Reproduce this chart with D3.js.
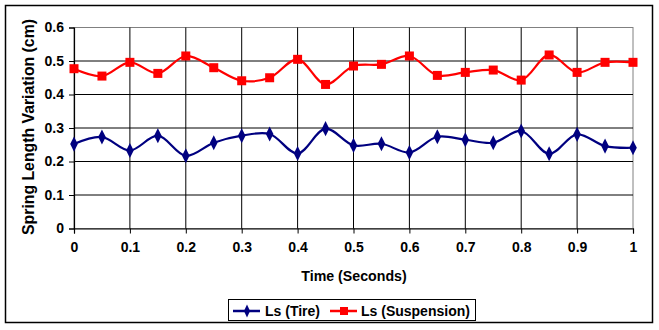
<!DOCTYPE html>
<html><head><meta charset="utf-8">
<script src="https://cdn.jsdelivr.net/npm/d3@7"></script>
<style>body{margin:0;background:#fff}svg{display:block}text{font-family:"Liberation Sans",Arial,sans-serif;font-weight:bold}</style>
</head><body><svg id="c" width="659" height="330"></svg>
<script>
const times = [0,0.05,0.1,0.15,0.2,0.25,0.3,0.35,0.4,0.45,0.5,0.55,0.6,0.65,0.7,0.75,0.8,0.85,0.9,0.95,1];
const tire = [0.252,0.273,0.233,0.277,0.217,0.256,0.277,0.282,0.224,0.298,0.248,0.253,0.227,0.274,0.265,0.256,0.291,0.223,0.281,0.246,0.241];
const suspension = [0.477,0.455,0.496,0.463,0.515,0.480,0.441,0.450,0.505,0.430,0.485,0.490,0.515,0.457,0.466,0.473,0.443,0.518,0.466,0.496,0.496];
const xTicks = [0,0.1,0.2,0.3,0.4,0.5,0.6,0.7,0.8,0.9,1];
const yTicks = [0,0.1,0.2,0.3,0.4,0.5,0.6];
const seriesNames = ["Ls (Tire)","Ls (Suspension)"];

const svg = d3.select("#c");
const L=74,R=633,T=27.5,B=228.5;
const x = d3.scaleLinear().domain([0,1]).range([L,R]);
const y = d3.scaleLinear().domain([0,0.6]).range([B,T]);

svg.append("rect").attr("x",5.5).attr("y",5.5).attr("width",647).attr("height",317)
  .attr("fill","none").attr("stroke","#000").attr("stroke-width",1.5);

// plot area border (gray)
svg.append("rect").attr("x",L).attr("y",T).attr("width",R-L).attr("height",B-T)
  .attr("fill","none").attr("stroke","#808080").attr("stroke-width",1);

// grid
const g = svg.append("g");
g.selectAll(".hg").data(yTicks.filter(d=>d>0&&d<0.6)).join("line")
  .attr("x1",L).attr("x2",R).attr("y1",d=>y(d)).attr("y2",d=>y(d)).attr("stroke","#000").attr("stroke-width",1);
g.selectAll(".vg").data(xTicks.filter(d=>d>0&&d<1)).join("line")
  .attr("y1",T).attr("y2",B).attr("x1",d=>x(d)).attr("x2",d=>x(d)).attr("stroke","#000").attr("stroke-width",1);

// axes
const xa = svg.append("g").attr("transform",`translate(0,${B})`)
  .call(d3.axisBottom(x).tickValues(xTicks).tickSize(5).tickPadding(9).tickFormat(d=>d3.format("")(d)));
const ya = svg.append("g").attr("transform",`translate(${L},0)`)
  .call(d3.axisLeft(y).tickValues(yTicks).tickSize(5).tickPadding(5).tickFormat(d=>d3.format("")(d)));
[xa,ya].forEach(a=>{a.select(".domain").attr("stroke","#000").attr("stroke-width",1.2);
  a.selectAll(".tick line").attr("stroke","#000");
  a.selectAll("text").attr("font-size",14).attr("font-family","Liberation Sans, Arial, sans-serif").attr("font-weight","bold").attr("fill","#000");});

// titles
svg.append("text").attr("x",354).attr("y",281).attr("text-anchor","middle").attr("font-size",14.2).text("Time (Seconds)");
svg.append("text").attr("transform","translate(33.5,127) rotate(-90)").attr("text-anchor","middle").attr("font-size",15.8).text("Spring Length Variation (cm)");

const line = d3.line().x(d=>x(d[0])).y(d=>y(d[1])).curve(d3.curveCatmullRom.alpha(0.5));
const tireData = times.map((t,i)=>[t,tire[i]]);
const suspData = times.map((t,i)=>[t,suspension[i]]);
const blue="#000080", red="#ff0000";

svg.append("path").datum(suspData).attr("d",line).attr("fill","none").attr("stroke",red).attr("stroke-width",2.2);
svg.selectAll(".sq").data(suspData).join("rect").attr("x",d=>x(d[0])-4.5).attr("y",d=>y(d[1])-4.5)
  .attr("width",9).attr("height",9).attr("fill",red);
svg.append("path").datum(tireData).attr("d",line).attr("fill","none").attr("stroke",blue).attr("stroke-width",2.2);
const dia = d3.symbol().type(d3.symbolDiamond).size(50);
svg.selectAll(".dm").data(tireData).join("path").attr("d",dia)
  .attr("transform",d=>`translate(${x(d[0])},${y(d[1])}) scale(1,1.15)`).attr("fill",blue);

// legend
const lg = svg.append("g");
lg.append("rect").attr("x",228.5).attr("y",299.5).attr("width",247).attr("height",21).attr("fill","#fff").attr("stroke","#000").attr("stroke-width",1);
lg.append("line").attr("x1",233).attr("x2",260).attr("y1",311).attr("y2",311).attr("stroke",blue).attr("stroke-width",2.5);
lg.append("path").attr("d",dia).attr("transform","translate(247,311) scale(0.8,1)").attr("fill",blue);
lg.append("text").attr("x",265).attr("y",316).attr("font-size",14).text(seriesNames[0]);
lg.append("line").attr("x1",330).attr("x2",357).attr("y1",311).attr("y2",311).attr("stroke",red).attr("stroke-width",2.5);
lg.append("rect").attr("x",340).attr("y",307).attr("width",8).attr("height",8).attr("fill",red);
lg.append("text").attr("x",361).attr("y",316).attr("font-size",14).text(seriesNames[1]);
</script></body></html>
